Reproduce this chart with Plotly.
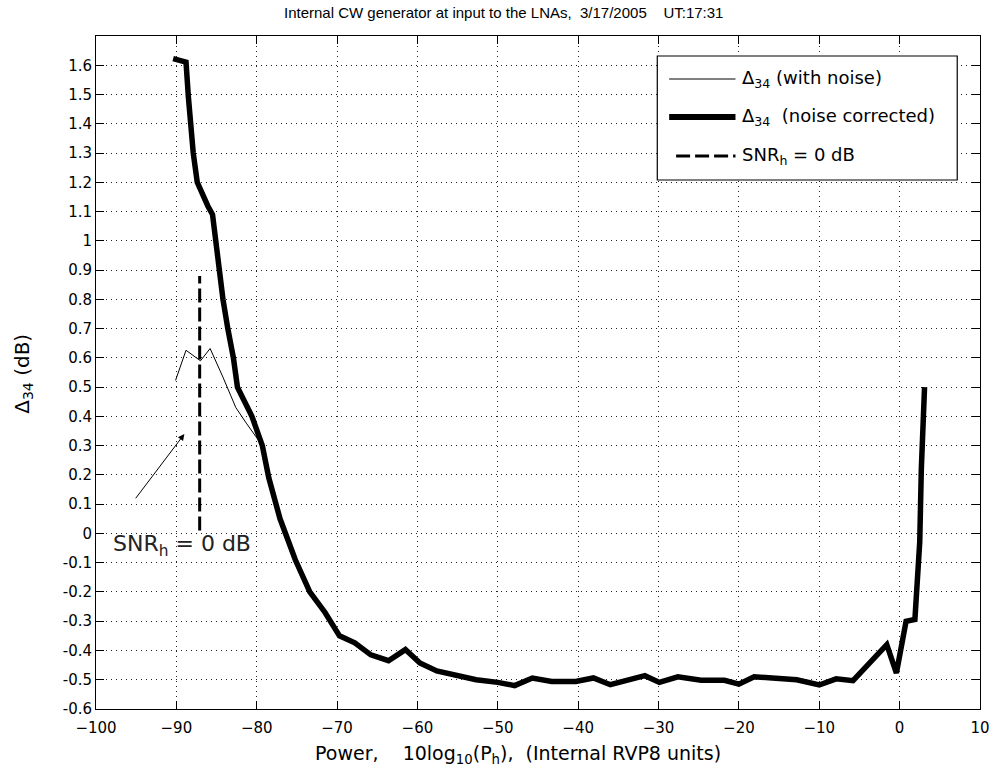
import plotly.graph_objects as go

# Delta_34 after noise correction vs. injected CW power (internal RVP8 units)
power_corr = [-90.4, -88.8, -88.5, -87.9, -87.4, -87.1, -86.1, -85.5, -85.2, -84.6,
              -84.2, -83.6, -82.9, -82.4, -80.6, -79.3, -78.5, -77.1, -75.2, -73.4,
              -71.5, -69.7, -67.8, -65.8, -63.6, -61.5, -59.7, -57.6, -55.2, -52.7,
              -50.0, -47.9, -45.7, -43.3, -40.3, -38.1, -36.0, -33.8, -31.7, -29.9,
              -27.6, -24.7, -21.8, -20.0, -18.1, -12.8, -10.0, -7.9, -5.8, -1.6,
              -0.4, 0.8, 1.9, 2.5, 2.7, 3.1]
delta_corr = [1.623, 1.611, 1.49, 1.30, 1.20, 1.18, 1.12, 1.09, 1.015, 0.90,
              0.80, 0.70, 0.60, 0.50, 0.40, 0.30, 0.19, 0.05, -0.09, -0.20,
              -0.27, -0.35, -0.374, -0.415, -0.435, -0.397, -0.443, -0.47, -0.485, -0.50,
              -0.509, -0.52, -0.494, -0.506, -0.506, -0.494, -0.517, -0.50, -0.486, -0.509,
              -0.49, -0.502, -0.502, -0.515, -0.49, -0.50, -0.518, -0.497, -0.503, -0.38,
              -0.477, -0.30, -0.294, -0.03, 0.22, 0.50]

# Delta_34 without noise correction (low-power end only; merges with the corrected curve)
power_noise = [-90.1, -88.8, -87.0, -85.8, -84.2, -82.6, -81.3, -80.5, -79.3]
delta_noise = [0.523, 0.626, 0.59, 0.632, 0.534, 0.43, 0.377, 0.345, 0.30]

# SNR_h = 0 dB marker
snr0_power = [-87.1, -87.1]
snr0_delta = [0.01, 0.88]

x_ticks = list(range(-100, 11, 10))
y_ticks = [round(-0.6 + 0.1 * i, 1) for i in range(23)]
y_ticklabels = ["-0.6", "-0.5", "-0.4", "-0.3", "-0.2", "-0.1", "0", "0.1", "0.2", "0.3",
                "0.4", "0.5", "0.6", "0.7", "0.8", "0.9", "1", "1.1", "1.2", "1.3",
                "1.4", "1.5", "1.6"]

FONT = "DejaVu Sans, Verdana, sans-serif"
TITLE_FONT = "Liberation Sans, Arial, sans-serif"

# plot-area geometry in pixels
W, H = 1002, 777
L, R, T, B = 96, 13, 36, 68
PW, PH = W - L - R, H - T - B


def px(x):
    return (x - L) / PW


def py(y):
    return (H - B - y) / PH


fig = go.Figure()
fig.add_trace(go.Scatter(x=power_noise, y=delta_noise, mode="lines",
                         line=dict(color="black", width=1), showlegend=False))
fig.add_trace(go.Scatter(x=power_corr, y=delta_corr, mode="lines",
                         line=dict(color="black", width=5.5), showlegend=False))
fig.add_trace(go.Scatter(x=snr0_power, y=snr0_delta, mode="lines",
                         line=dict(color="black", width=3, dash="14px,5px"),
                         showlegend=False))

axis_common = dict(
    showline=True, linecolor="black", linewidth=1, mirror="ticks",
    ticks="inside", ticklen=8, tickcolor="black", tickwidth=1,
    showgrid=True, gridcolor="#222", gridwidth=1, griddash="1px,4px",
    zeroline=False, tickfont=dict(family=FONT, size=15, color="black"),
)
fig.update_xaxes(range=[-100, 10], tickvals=x_ticks, ticklabelstandoff=5, **axis_common)
fig.update_yaxes(range=[-0.6, 1.7], tickvals=y_ticks, ticktext=y_ticklabels, **axis_common)

annotations = [
    dict(text="Internal CW generator at input to the LNAs,\u00a0 3/17/2005\u00a0\u00a0\u00a0\u00a0UT:17:31",
         x=px(508), y=py(13), xref="paper", yref="paper", xanchor="center",
         yanchor="middle", showarrow=False,
         font=dict(family=TITLE_FONT, size=15, color="black")),
    dict(text="Power,\u00a0\u00a0\u00a0 10log<sub>10</sub>(P<sub>h</sub>),\u00a0 (Internal RVP8 units)",
         x=px(522), y=py(754), xref="paper", yref="paper", xanchor="center",
         yanchor="middle", showarrow=False,
         font=dict(family=FONT, size=19, color="black")),
    dict(text="\u0394<sub>34</sub> (dB)", x=px(22), y=py(374), xref="paper", yref="paper",
         xanchor="center", yanchor="middle",
         textangle=-90, showarrow=False, font=dict(family=FONT, size=20, color="black")),
    dict(text="SNR<sub>h</sub> = 0 dB", x=-89.3, y=-0.04, xref="x", yref="y",
         xanchor="center", yanchor="middle",
         showarrow=False, font=dict(family=FONT, size=22, color="#222")),
    dict(text="", x=-89.0, y=0.34, ax=-95.2, ay=0.115, xref="x", yref="y",
         axref="x", ayref="y", showarrow=True, arrowhead=2, arrowsize=1.3,
         arrowwidth=1, arrowcolor="black"),
]

# legend box drawn by hand
shapes = [
    dict(type="rect", xref="paper", yref="paper", x0=px(663), x1=px(966),
         y0=py(180), y1=py(56), line=dict(color="black", width=1.2), fillcolor="white",
         layer="above"),
]
legend_rows = [
    (79, dict(color="black", width=1), "\u0394<sub>34</sub> (with noise)"),
    (117, dict(color="black", width=6), "\u0394<sub>34</sub>\u00a0 (noise corrected)"),
    (156, dict(color="black", width=3, dash="14px,5px"), "SNR<sub>h</sub> = 0 dB"),
]
for ypix, ln, label in legend_rows:
    x0 = 682 if "dash" in ln else 675
    shapes.append(dict(type="line", xref="paper", yref="paper", x0=px(x0), x1=px(742),
                       y0=py(ypix), y1=py(ypix), line=ln, layer="above"))
    annotations.append(dict(text=label, x=px(747), y=py(ypix), xref="paper", yref="paper",
                            xanchor="left", yanchor="middle", showarrow=False,
                            font=dict(family=FONT, size=18, color="black")))

fig.update_layout(
    width=W, height=H, margin=dict(l=L, r=R, t=T, b=B),
    paper_bgcolor="white", plot_bgcolor="white",
    annotations=annotations, shapes=shapes, showlegend=False,
)

fig.write_html("out.html")
